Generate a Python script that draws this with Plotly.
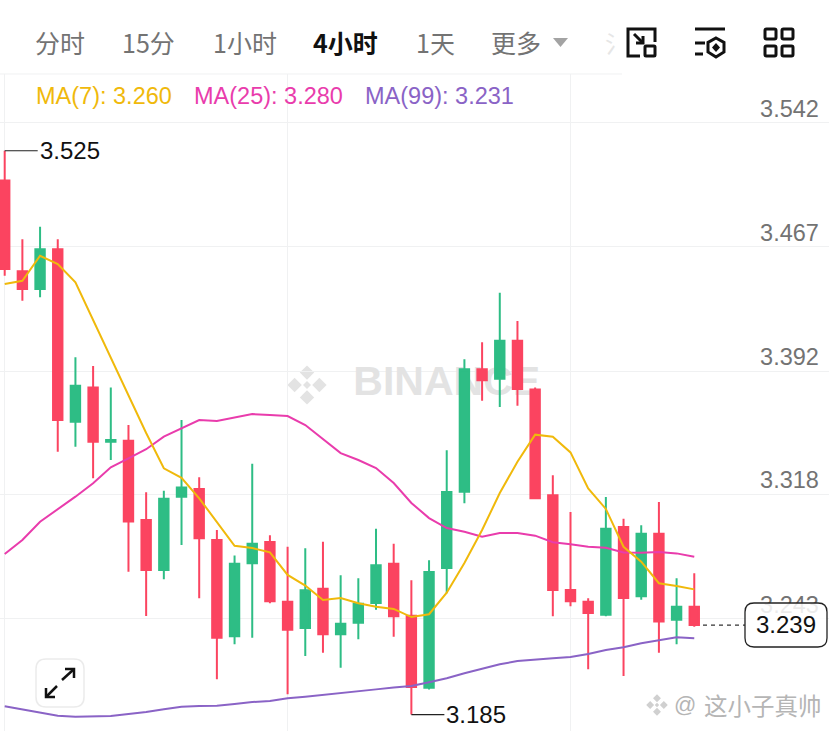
import plotly.graph_objects as go

W, H = 829, 731

# candles (4h, oldest first)
OPEN = [3.507, 3.4523, 3.4416, 3.4656, 3.3616, 3.3823, 3.3495, 3.3501, 3.3023, 3.2722,
        3.3164, 3.321, 3.2903, 3.2322, 3.2762, 3.2891, 3.2531, 3.2372, 3.2609, 3.2334,
        3.2404, 3.2523, 3.276, 3.2446, 3.2012, 3.2734, 3.3194, 3.3932, 3.3875, 3.4104,
        3.3811, 3.3172, 3.2601, 3.2531, 3.2452, 3.2981, 3.2563, 3.2941, 3.2422, 3.25]
HIGH = [3.525, 3.4716, 3.4792, 3.4716, 3.4004, 3.3952, 3.3823, 3.3596, 3.319, 3.32,
        3.3626, 3.3281, 3.2963, 3.281, 3.3363, 3.2931, 3.2862, 3.2853, 3.2892, 3.269,
        3.2672, 3.2971, 3.288, 3.266, 3.278, 3.3444, 3.3992, 3.4095, 3.4394, 3.4223,
        3.3823, 3.3293, 3.3071, 3.2551, 3.3162, 3.3031, 3.2991, 3.3132, 3.2672, 3.2702]
LOW = [3.4496, 3.4346, 3.4366, 3.3435, 3.3465, 3.3275, 3.3385, 3.2711, 3.2444, 3.2666,
       3.2872, 3.2551, 3.2063, 3.2274, 3.2313, 3.2521, 3.1972, 3.2203, 3.2223, 3.2133,
       3.2304, 3.2482, 3.232, 3.185, 3.2002, 3.2581, 3.3124, 3.3743, 3.3705, 3.3712,
       3.3154, 3.2443, 3.2503, 3.2123, 3.2443, 3.2083, 3.2543, 3.2223, 3.2274, 3.238]
CLOSE = [3.4537, 3.4416, 3.4656, 3.3626, 3.3833, 3.3495, 3.3506, 3.3015, 3.2722, 3.3152,
         3.322, 3.2913, 3.2313, 3.276, 3.288, 3.2533, 3.2362, 3.2599, 3.2334, 3.2398,
         3.2519, 3.275, 3.2443, 3.2016, 3.271, 3.3192, 3.3932, 3.3866, 3.4104, 3.3813,
         3.3154, 3.2601, 3.2533, 3.2462, 3.2971, 3.2553, 3.2941, 3.2412, 3.25, 3.239]

MA7 = [3.4446, 3.4466, 3.4617, 3.4567, 3.4457, 3.4229, 3.4, 3.3771, 3.3548, 3.3335,
       3.3278, 3.3154, 3.3013, 3.2868, 3.2854, 3.2828, 3.2692, 3.2628, 3.2541, 3.2553,
       3.2521, 3.25, 3.2487, 3.2438, 3.2455, 3.2585, 3.2764, 3.2963, 3.3186, 3.3375,
       3.3538, 3.3526, 3.3431, 3.3214, 3.309, 3.2862, 3.2772, 3.2642, 3.2625, 3.2605]
MA25 = [3.2818, 3.2903, 3.3013, 3.3088, 3.3164, 3.3245, 3.3341, 3.3395, 3.345, 3.3526,
        3.3576, 3.3626, 3.362, 3.3643, 3.3662, 3.3656, 3.365, 3.3596, 3.3512, 3.3427,
        3.3385, 3.3337, 3.3246, 3.3126, 3.3035, 3.2975, 3.2953, 3.2923, 3.2945, 3.2945,
        3.2929, 3.2889, 3.2877, 3.2862, 3.2856, 3.2828, 3.2826, 3.283, 3.2822, 3.2802]
MA99 = [3.19, 3.1882, 3.1865, 3.1843, 3.1837, 3.1837, 3.1841, 3.1853, 3.1865, 3.1882,
        3.1897, 3.1902, 3.1903, 3.1914, 3.1926, 3.1932, 3.1948, 3.1958, 3.1968, 3.1978,
        3.1988, 3.2002, 3.2014, 3.2022, 3.2045, 3.2069, 3.2099, 3.2125, 3.2153, 3.2173,
        3.2183, 3.2189, 3.2197, 3.2215, 3.2239, 3.2256, 3.228, 3.23, 3.2316, 3.231]

PRICE_TICKS = [3.168, 3.243, 3.318, 3.392, 3.467, 3.542]
TIME_GRID = [0, 16, 32]
TABS = [("分时", 60), ("15分", 148), ("1小时", 245), ("1天", 435), ("更多", 516)]

X_RANGE = [-0.266, 46.62]
Y_RANGE = [3.1751, 3.6159]

RED = "#fb4460"
GREEN = "#2ebd85"
GREY = "#737373"
YELLOW = "#f0b90b"
PINK = "#e93cac"
PURPLE = "#8a63c6"
GRID = "#f0f1f2"
SANS = "Liberation Sans"
CJK = "Noto Sans CJK SC"

idx = list(range(len(CLOSE)))


def fx(x):
    return round(x / W, 5)


def fy(y):
    return round(1 - y / H, 5)


def poly(points, closed=False):
    s = "M " + " L ".join(f"{fx(x)} {fy(y)}" for x, y in points)
    return s + (" Z" if closed else "")


def round_rect(x0, y0, x1, y1, r):
    return (f"M {fx(x0 + r)} {fy(y0)} L {fx(x1 - r)} {fy(y0)} Q {fx(x1)} {fy(y0)} {fx(x1)} {fy(y0 + r)} "
            f"L {fx(x1)} {fy(y1 - r)} Q {fx(x1)} {fy(y1)} {fx(x1 - r)} {fy(y1)} "
            f"L {fx(x0 + r)} {fy(y1)} Q {fx(x0)} {fy(y1)} {fx(x0)} {fy(y1 - r)} "
            f"L {fx(x0)} {fy(y0 + r)} Q {fx(x0)} {fy(y0)} {fx(x0 + r)} {fy(y0)} Z")


def shape(path, color="#111111", width=3, fill=None, layer="above"):
    return dict(type="path", xref="paper", yref="paper", path=path, layer=layer,
                line=dict(color=color, width=width), fillcolor=fill or "rgba(0,0,0,0)")


def note(x, y, text, size=24, color=GREY, family=SANS, anchor="center"):
    return dict(xref="paper", yref="paper", x=fx(x), y=fy(y), text=text, showarrow=False,
                xanchor=anchor, yanchor="middle", font=dict(size=size, color=color, family=family))


def diamond_logo(cx, cy, s, color):
    # small four-diamond mark used for the watermarks
    out = []
    for dx, dy, r in [(0, -0.62, 0.36), (-0.62, 0, 0.36), (0.62, 0, 0.36), (0, 0.62, 0.36), (0, 0, 0.2)]:
        x, y = cx + dx * s, cy + dy * s
        rr = r * s
        out.append(shape(poly([(x, y - rr), (x + rr, y), (x, y + rr), (x - rr, y)], True),
                         color=color, width=0, fill=color, layer="below"))
    return out


fig = go.Figure()

# base axes: watermark and price labels sit under the candles
fig.add_trace(go.Scatter(x=[25.0], y=[3.3837], mode="text", text=["BINANCE"], cliponaxis=False,
                         textfont=dict(size=41, color="#e3e3e3", family="Liberation Sans", weight="bold"),
                         hoverinfo="skip", showlegend=False))
fig.add_trace(go.Scatter(x=[46.05] * len(PRICE_TICKS), y=PRICE_TICKS, mode="text",
                         text=[f"{v:.3f}" for v in PRICE_TICKS], textposition="top left", cliponaxis=False,
                         textfont=dict(size=23.5, color=GREY, family=SANS),
                         hoverinfo="skip", showlegend=False))

fig.add_trace(go.Candlestick(
    x=idx, open=OPEN, high=HIGH, low=LOW, close=CLOSE, xaxis="x2", yaxis="y2",
    whiskerwidth=0, showlegend=False,
    increasing=dict(line=dict(color=GREEN, width=2), fillcolor=GREEN),
    decreasing=dict(line=dict(color=RED, width=2), fillcolor=RED),
))
for vals, col in [(MA99, PURPLE), (MA25, PINK), (MA7, YELLOW)]:
    fig.add_trace(go.Scatter(x=idx, y=vals, mode="lines", xaxis="x2", yaxis="y2", showlegend=False,
                             line=dict(color=col, width=2), hoverinfo="skip"))

shapes = []
shapes += diamond_logo(307, 385, 20, "#e3e3e3")

# header strip hides the grid above the chart
shapes.append(dict(type="rect", xref="paper", yref="paper", x0=0, x1=1, y0=fy(74), y1=1,
                   fillcolor="white", line=dict(width=0), layer="above"))
shapes.append(dict(type="line", xref="paper", yref="paper", x0=0, x1=fx(622), y0=fy(74), y1=fy(74),
                   line=dict(color="#f0f1f2", width=1), layer="above"))
# dropdown triangle
shapes.append(shape(poly([(553, 38), (568, 38), (560.5, 47)], True), color="#a3a3a3", width=0, fill="#a3a3a3"))

# toolbar icons
shapes.append(shape(poly([(640, 56), (628, 56), (628, 29), (655, 29), (655, 42)])))
shapes.append(shape(round_rect(645, 46, 655, 56, 1)))
shapes.append(shape(poly([(634, 34), (643, 43)])))
shapes.append(shape(poly([(643, 36), (643, 43), (636, 43)])))
shapes.append(shape(poly([(695, 29), (725, 29)])))
shapes.append(shape(poly([(695, 43), (705, 43)])))
shapes.append(shape(poly([(695, 54), (703, 54)])))
shapes.append(shape(poly([(716, 38), (724, 42.5), (724, 52), (716, 57), (708, 52), (708, 42.5)], True)))
shapes.append(shape(poly([(716, 43), (720, 47.5), (716, 52), (712, 47.5)], True), width=0, fill="#111111"))
for x0, y0 in [(765, 29), (782, 29), (765, 46), (782, 46)]:
    shapes.append(shape(round_rect(x0, y0, x0 + 11, y0 + 10, 1.5)))

# expand button
shapes.append(shape(round_rect(36, 659, 84, 707, 10), color="#ebebeb", width=1.5, fill="white"))
shapes.append(shape(poly([(62, 680), (73, 670)]), width=2.5))
shapes.append(shape(poly([(65, 669), (74, 669), (74, 678)]), width=2.5))
shapes.append(shape(poly([(57, 686), (47, 696)]), width=2.5))
shapes.append(shape(poly([(46, 688), (46, 697), (55, 697)]), width=2.5))

# last price tag
shapes.append(dict(type="line", xref="paper", yref="y", x0=fx(703), x1=fx(745), y0=CLOSE[-1], y1=CLOSE[-1],
                   line=dict(color="#333333", width=1.2, dash="4px,4px"), layer="above"))
shapes.append(shape(round_rect(745, 603, 827, 647, 9), color="#222222", width=1.3,
                    fill="rgba(255,255,255,0.86)"))

shapes += diamond_logo(657, 705, 11, "#d0d0d0")

annotations = [note(x, 42, t, size=25, family=CJK) for t, x in TABS]
annotations.append(note(346, 42, "<b>4小时</b>", size=25, color="#111111", family=CJK))
annotations.append(note(617, 42, "氵", size=24, color="#e6e6e6", family=CJK))
annotations.append(note(34, 96, f"MA(7): {MA7[-1]:.3f}", size=23.5, color=YELLOW, anchor="left"))
annotations.append(note(192, 96, f"MA(25): {MA25[-1]:.3f}", size=23.5, color=PINK, anchor="left"))
annotations.append(note(363, 96, f"MA(99): {MA99[-1]:.3f}", size=23.5, color=PURPLE, anchor="left"))
annotations.append(note(786, 625, f"{CLOSE[-1]:.3f}", size=24, color="#111111"))
annotations.append(note(685, 705, "@", size=22, color="#b5b5b5"))
annotations.append(note(763, 705, "这小子真帅", size=23.5, color="#b5b5b5", family=CJK))

# high / low callouts
for i, val in [(HIGH.index(max(HIGH)), max(HIGH)), (LOW.index(min(LOW)), min(LOW))]:
    annotations.append(dict(xref="x2", yref="y2", x=i, y=val, ax=33, ay=0, text=f"{val:.3f}", showarrow=True,
                            arrowhead=0, arrowwidth=1.2, arrowcolor="#222222", xanchor="left", yanchor="middle",
                            standoff=0, font=dict(size=24, color="#111111", family=SANS)))

fig.update_layout(
    width=W, height=H, margin=dict(l=0, r=0, t=0, b=0), boxgap=0.24,
    paper_bgcolor="white", plot_bgcolor="white", showlegend=False, hovermode=False,
    xaxis=dict(range=X_RANGE, tickvals=TIME_GRID, showticklabels=False, showgrid=True, gridcolor=GRID,
               gridwidth=1, zeroline=False, ticks="", showline=False),
    yaxis=dict(range=Y_RANGE, tickvals=PRICE_TICKS, showticklabels=False, showgrid=True, gridcolor=GRID,
               gridwidth=1, zeroline=False, ticks="", showline=False),
    xaxis2=dict(range=X_RANGE, overlaying="x", visible=False, rangeslider=dict(visible=False)),
    yaxis2=dict(range=Y_RANGE, overlaying="y", visible=False),
    shapes=shapes, annotations=annotations,
)

fig.write_html("out.html", config={"displayModeBar": False},
               post_script="document.body.style.margin='0';document.body.style.overflow='hidden';")
